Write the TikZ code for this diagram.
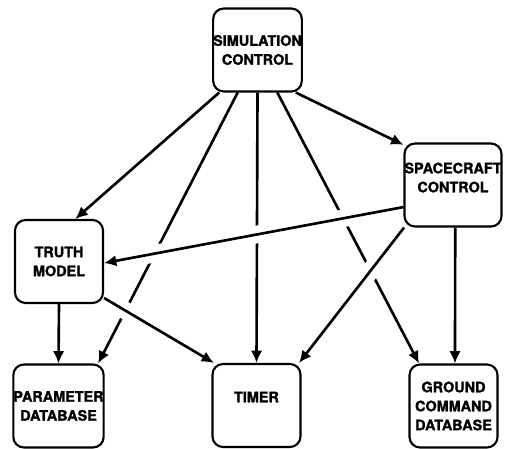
\documentclass[tikz,border=0pt]{standalone}
\usepackage{fontspec}
\setmainfont{TeX Gyre Heros}[BoldFeatures={FakeBold=1.5}]
\usetikzlibrary{arrows.meta}

\newcommand{\liftup}[2]{\raisebox{#1}[\height][\depth]{#2}}

\begin{document}
\begin{tikzpicture}[x=0.02cm, y=-0.02cm,
    box/.style={draw, line width=1.2pt, rounded corners=6pt, minimum width=1.76cm,
        minimum height=1.66cm, inner sep=0pt, align=center,
        font=\fontsize{8.2}{10.8}\selectfont\bfseries},
    link/.style={line width=1.5pt, -{Latex[length=7pt,width=6.5pt]}},
    hop/.style={draw=white, line width=10pt, shorten <=12pt, shorten >=12pt}]
    \useasboundingbox (0,0) rectangle (507,449);
    % Modules
    \node[box] (sim) at (257.5,50) {SIMULATION\\CONTROL};
    \node[box] (craft) at (453,185) {\liftup{0.12cm}{\begin{tabular}{@{}c@{}}SPACECRAFT\\CONTROL\end{tabular}}};
    \node[box] (truth) at (59,261.5) {TRUTH\\MODEL};
    \node[box] (param) at (58.5,406) {PARAMETER\\DATABASE};
    \node[box] (timer) at (256.5,405.5) {\liftup{0.17cm}{TIMER}};
    \node[box] (ground) at (453.5,406) {GROUND\\COMMAND\\DATABASE};
    % Arrows out of simulation control
    \draw[link] (sim.-132) -- (truth.69);
    \draw[link] (sim.-115) -- (param.47);
    \draw[link] (sim.-90) -- (timer.90);
    \draw[link] (sim.-65) -- (ground.129);
    \draw[link] (sim.-48) -- (craft.141);
    % Arrows crossing over the long ones (white gap first)
    \draw[hop] (craft.-156) -- (truth.-2);
    \draw[hop] (craft.-139) -- (timer.45);
    \draw[hop] (truth.-39) -- (timer.135);
    \draw[link] (craft.-156) -- (truth.-2);
    \draw[link] (craft.-139) -- (timer.45);
    \draw[link] (truth.-39) -- (timer.135);
    \draw[link] (craft.-87) -- (ground.88);
    \draw[link] (truth.-90) -- (param.90);
\end{tikzpicture}
\end{document}
